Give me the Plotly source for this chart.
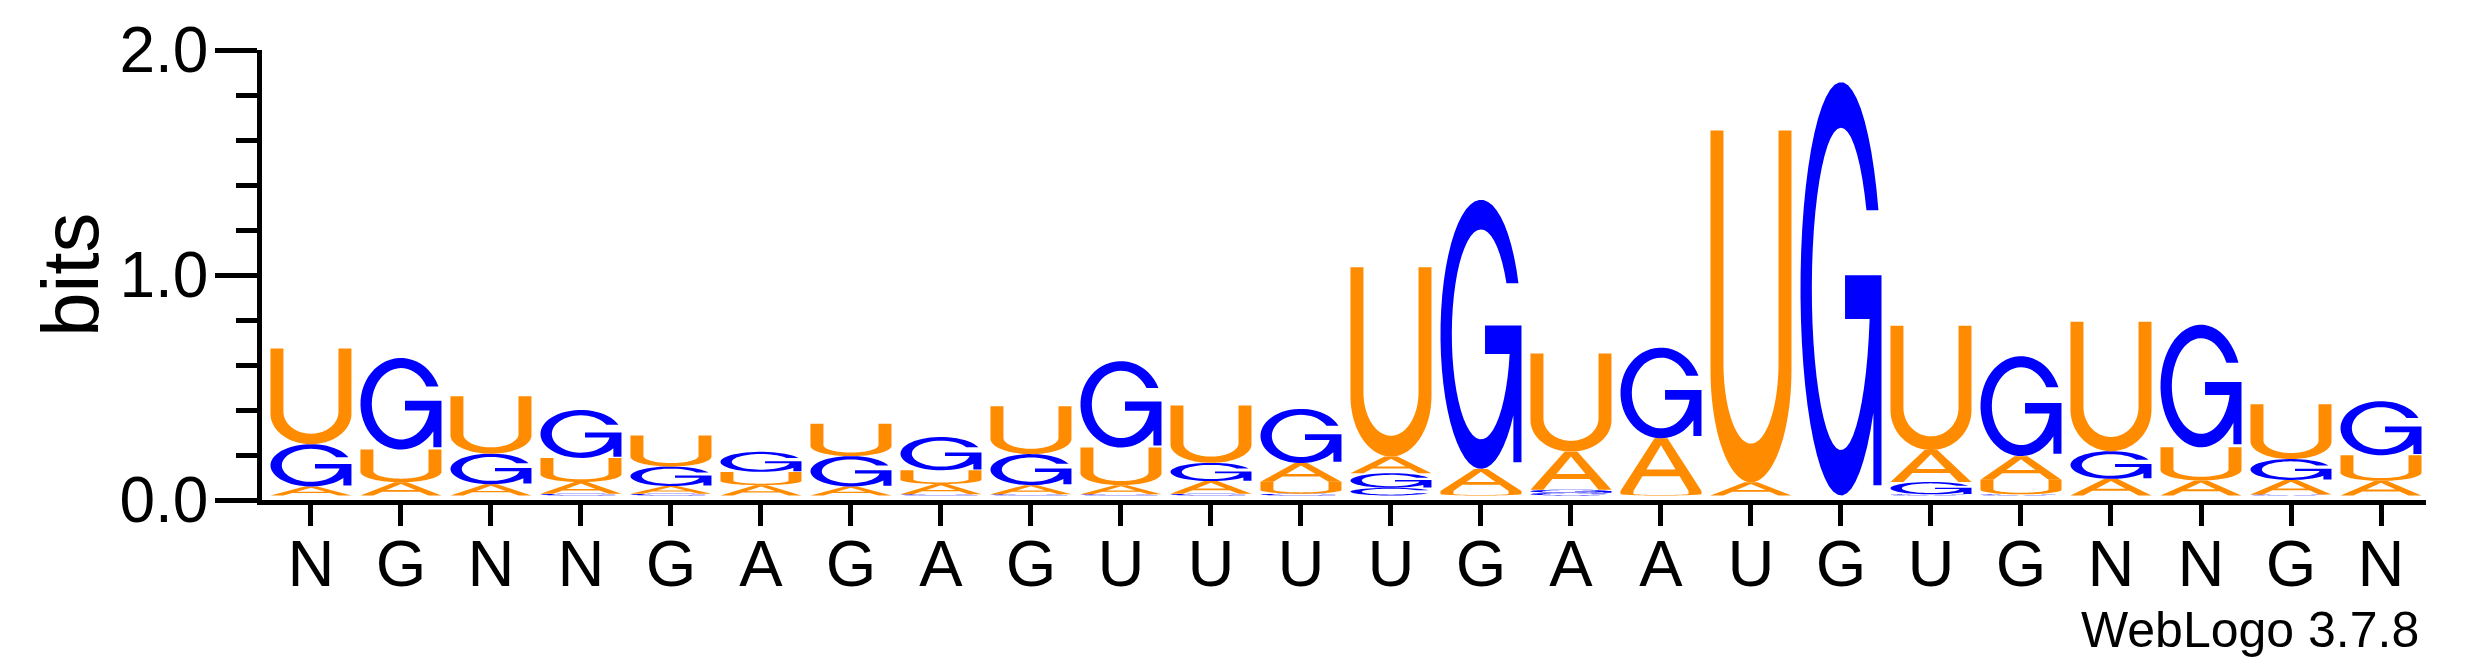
import numpy as np
import plotly.graph_objects as go

# sequence logo, heights in bits
positions = list(range(1, 25))
labels = ["N", "G", "N", "N", "G", "A", "G", "A", "G", "U", "U", "U",
          "U", "G", "A", "A", "U", "G", "U", "G", "N", "N", "G", "N"]

a_bits = [0.040, 0.059, 0.050, 0.052, 0.034, 0.046, 0.040, 0.045, 0.040, 0.040, 0.056, 0.083,
          0.074, 0.098, 0.169, 0.234, 0.059, 0.000, 0.142, 0.105, 0.074, 0.067, 0.064, 0.065]
c_bits = [0.000, 0.000, 0.000, 0.008, 0.008, 0.000, 0.000, 0.006, 0.006, 0.006, 0.008, 0.008,
          0.034, 0.000, 0.012, 0.000, 0.000, 0.000, 0.005, 0.005, 0.000, 0.000, 0.005, 0.000]
g_bits = [0.188, 0.407, 0.136, 0.213, 0.087, 0.089, 0.135, 0.148, 0.138, 0.384, 0.081, 0.241,
          0.065, 1.196, 0.014, 0.403, 0.000, 1.837, 0.055, 0.444, 0.123, 0.545, 0.093, 0.240]
u_bits = [0.425, 0.145, 0.255, 0.107, 0.138, 0.059, 0.144, 0.061, 0.213, 0.167, 0.255, 0.053,
          0.841, 0.020, 0.436, 0.020, 1.563, 0.000, 0.553, 0.065, 0.575, 0.147, 0.244, 0.114]

ORANGE = "#FF8C00"
BLUE = "#0000FF"
colors = {"A": ORANGE, "U": ORANGE, "G": BLUE, "C": BLUE}
BASE = 0.02      # stacks sit a hair above the axis line
HALF_W = 0.45    # letter half width in position units


def arc(cx, cy, rx, ry, a0, a1, n=48):
    t = np.radians(np.linspace(a0, a1, n))
    return np.column_stack([cx + rx * np.cos(t), cy + ry * np.sin(t)])


# glyph outlines in a unit box, stretched later to each letter's box
t_out = np.degrees(np.arcsin(0.38))
t_in = np.degrees(np.arcsin(0.19 / 0.39))
glyphs = {
    "U": [np.vstack([[[0, 1]], arc(0.5, 0.32, 0.5, 0.32, 180, 360), [[1, 1], [0.84, 1]],
                     arc(0.5, 0.34, 0.34, 0.23, 360, 180), [[0.16, 1]]])],
    "G": [np.vstack([arc(0.5, 0.5, 0.5, 0.5, t_out, 323.13),
                     [[0.9, 0.025], [1, 0.025], [1, 0.533], [0.55, 0.533], [0.55, 0.427]],
                     arc(0.5, 0.5, 0.36, 0.39, -10.8, -360 + t_in)])],
    "C": [np.vstack([arc(0.5, 0.5, 0.5, 0.5, t_out, 360 - t_out),
                     arc(0.5, 0.5, 0.36, 0.39, 360 - t_in, t_in)])],
    "A": [np.array([[0, 0], [0.42, 1], [0.58, 1], [1, 0], [0.84, 0], [0.73, 0.28], [0.27, 0.28], [0.16, 0]]),
          np.array([[0.32, 0.41], [0.68, 0.41], [0.5, 0.87]])],
}


def glyph_path(polys, x0, x1, y0, y1):
    out = ""
    for p in polys:
        xs = x0 + (x1 - x0) * p[:, 0]
        ys = y0 + (y1 - y0) * p[:, 1]
        out += "M" + "L".join(f"{x:.4f},{y:.5f}" for x, y in zip(xs, ys)) + "Z"
    return out


shapes = []
for i, pos in enumerate(positions):
    col = {"A": a_bits[i], "C": c_bits[i], "G": g_bits[i], "U": u_bits[i]}
    y = BASE
    for letter, h in sorted(col.items(), key=lambda kv: kv[1]):
        if h <= 0:
            continue
        shapes.append(dict(type="path", xref="x", yref="y",
                           path=glyph_path(glyphs[letter], pos - HALF_W, pos + HALF_W, y, y + h),
                           fillcolor=colors[letter], line=dict(width=0)))
        y += h

FONT = "Liberation Sans, Arial, sans-serif"
fig = go.Figure()
fig.add_trace(go.Scatter(x=[positions[0]], y=[0], mode="markers", opacity=0,
                         hoverinfo="skip", showlegend=False))

fig.update_layout(
    width=2475, height=667,
    margin=dict(l=262, r=49, t=50, b=167),
    plot_bgcolor="white", paper_bgcolor="white",
    font=dict(family=FONT, color="black"),
    shapes=shapes,
    showlegend=False,
    annotations=[
        dict(text="bits", textangle=-90, xref="paper", yref="paper",
             x=-0.0887, y=0.5, xanchor="center", yanchor="middle",
             showarrow=False, font=dict(size=80, family=FONT)),
        dict(text="WebLogo 3.7.8", xref="paper", yref="paper",
             x=0.9977, y=-0.222, xanchor="right", yanchor="top",
             showarrow=False, font=dict(size=50, family=FONT)),
    ],
)
fig.update_xaxes(
    range=[0.456, 24.5], tickvals=positions, ticktext=labels,
    showline=True, linewidth=4.5, linecolor="black",
    ticks="outside", ticklen=21, tickwidth=4.5, tickcolor="black",
    tickfont=dict(size=65, family=FONT), showgrid=False, zeroline=False,
    ticklabelstandoff=-18,
)
fig.update_yaxes(
    range=[0, 2], tickvals=[0, 1, 2], tickformat=".1f",
    showline=True, linewidth=4.5, linecolor="black",
    ticks="outside", ticklen=42, tickwidth=4.5, tickcolor="black",
    minor=dict(dtick=0.2, ticks="outside", ticklen=21, tickwidth=4.5, tickcolor="black"),
    tickfont=dict(size=64, family=FONT), showgrid=False, zeroline=False,
    ticklabelstandoff=-6,
)

fig.write_html("out.html", config={"displayModeBar": False},
               post_script="document.body.style.margin='0';")
